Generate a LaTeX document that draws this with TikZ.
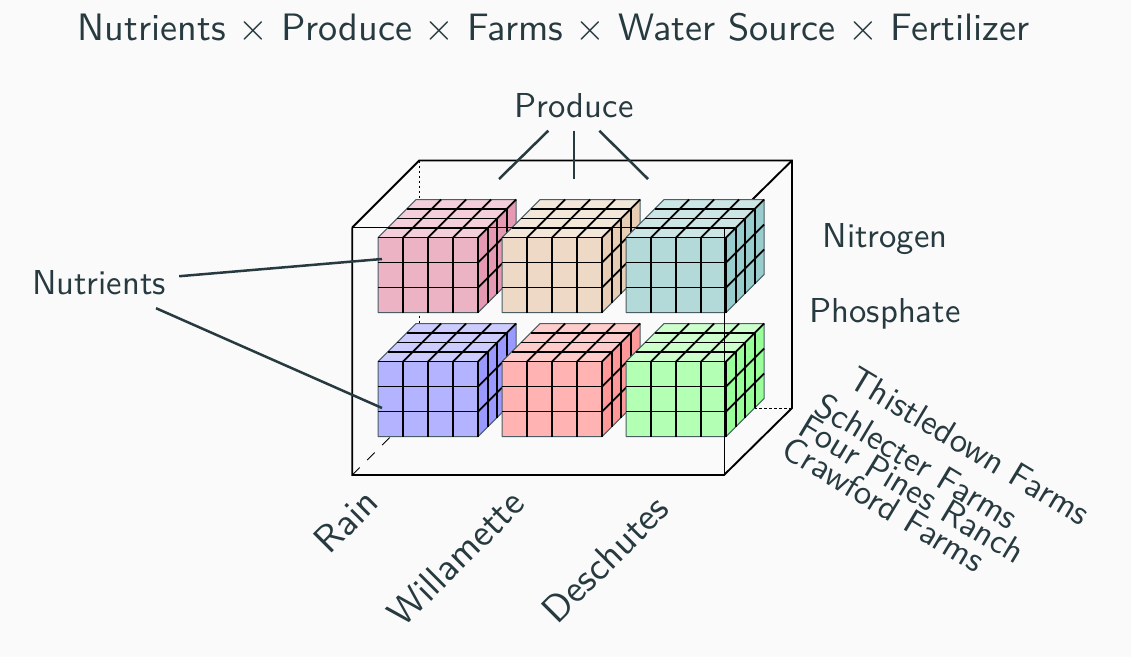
\documentclass[tikz,border=0pt]{standalone}
\usepackage{fontspec}
\usepackage{graphicx}
\setsansfont{Latin Modern Sans}
\definecolor{bgc}{HTML}{FAFAFA}
\definecolor{inkc}{HTML}{263A40}
\definecolor{edgec}{HTML}{4A5E64}
\definecolor{pinkF}{HTML}{EBB3C4}\definecolor{pinkT}{HTML}{F4CEDB}\definecolor{pinkS}{HTML}{E699B3}
\definecolor{tanF}{HTML}{EDD9C6}\definecolor{tanT}{HTML}{F3E7DA}\definecolor{tanS}{HTML}{E6CDB4}
\definecolor{tealF}{HTML}{B3D9D9}\definecolor{tealT}{HTML}{CCE6E6}\definecolor{tealS}{HTML}{99CCCC}
\definecolor{blueF}{HTML}{B3B3FF}\definecolor{blueT}{HTML}{CCCCFF}\definecolor{blueS}{HTML}{9999FF}
\definecolor{redF}{HTML}{FFB3B3}\definecolor{redT}{HTML}{FFCCCC}\definecolor{redS}{HTML}{FF9999}
\definecolor{greenF}{HTML}{B3FFB3}\definecolor{greenT}{HTML}{CCFFCC}\definecolor{greenS}{HTML}{99FF99}
\newcommand{\bigt}[1]{\scalebox{3.46}{#1}}
\newcommand{\hugt}[1]{\scalebox{3.82}{#1}}
\tikzset{
  x=1pt,y=-1pt,
  boxline/.style={black,line width=1.9pt},
  thinline/.style={black,line width=0.9pt},
  dotline/.style={black,line width=0.8pt,dash pattern=on 2.5pt off 2.5pt},
  dashline/.style={black,line width=0.9pt,dash pattern=on 10.6pt off 10.6pt},
  gridline/.style={black,line width=1.9pt},
  edgeline/.style={edgec,line width=1pt,line join=round},
  lab/.style={text=inkc,font=\fontsize{10}{12}\sffamily\selectfont,inner sep=0pt},
  hub/.style={lab,minimum width=#1,minimum height=50pt},
  conn/.style={inkc,line width=2.5pt},
}
\newcommand{\slab}[5]{%
  \begin{scope}[shift={(#1,#2)}]
    \fill[#3] (0,0) rectangle (100,75);
    \fill[#4] (0,0) -- (38,-38) -- (138,-38) -- (100,0) -- cycle;
    \fill[#5] (100,0) -- (138,-38) -- (138,37) -- (100,75) -- cycle;
    \draw[edgeline] (0,0) -- (38,-38) -- (138,-38) -- (138,37) -- (100,75) -- (0,75) -- cycle;
    \foreach \i in {25,50,75} \draw[gridline] (\i,0) -- (\i,75);
    \foreach \j in {25,50} \draw[gridline] (0,\j) -- (100,\j);
    \foreach \i in {25,50,75} \draw[gridline] (\i,0) -- ++(38,-38);
    \foreach \k in {9.5,19,28.5} {
      \draw[gridline] (\k,-\k) -- ++(100,0);
      \draw[gridline] (100+\k,-\k) -- ++(0,75);
    }
    \foreach \j in {25,50} \draw[gridline] (100,\j) -- ++(38,-38);
    \draw[gridline] (0,0) -- (100,0) -- (100,75);
    \draw[gridline] (100,0) -- (138,-38);
  \end{scope}}
\begin{document}
\begin{tikzpicture}
\useasboundingbox (0,0) rectangle (1131,657);
\fill[bgc] (0,0) rectangle (1131,657);
\coordinate (fa) at (352.2,227.5); \coordinate (fb) at (724,227.5);
\coordinate (fc) at (724,475); \coordinate (fd) at (352.2,475);
\coordinate (ba) at (419.2,160.5); \coordinate (bb) at (792,160.5);
\coordinate (bc) at (792,408); \coordinate (bd) at (419.2,408);
% hidden edges
\draw[dotline] (ba) -- (bd);
\draw[dotline] (bd) -- (bc);
\draw[dashline] (fd) -- (bd);
\draw[boxline] (bb) -- (fb);
% slabs
\slab{378.1}{361.5}{blueF}{blueT}{blueS}
\slab{502.1}{361.5}{redF}{redT}{redS}
\slab{626.1}{361.5}{greenF}{greenT}{greenS}
\slab{378.1}{237.5}{pinkF}{pinkT}{pinkS}
\slab{502.1}{237.5}{tanF}{tanT}{tanS}
\slab{626.1}{237.5}{tealF}{tealT}{tealS}
% visible box edges
\draw[boxline,line join=round] (fa) -- (fb);
\draw[boxline] (fa) -- (fd) -- (fc) -- (bc) -- (bb) -- (ba) -- (fa);
\draw[thinline] (fb) -- (fc);
% labels
\node[lab] (title) at (553.5,27) {\hugt{Nutrients × Produce × Farms × Water Source × Fertilizer}};
\node[hub=120pt] (produce) at (574,105.5) {\bigt{Produce}};
\node[hub=160pt] (nutrients) at (99,283) {\bigt{Nutrients}};
\node[lab] (nitrogen) at (885,239) {\bigt{Nitrogen}};
\node[lab] (phosphate) at (885,314) {\bigt{Phosphate}};
\node[lab,rotate=45] (rain) at (346,521) {\hugt{Rain}};
\node[lab,rotate=45] (willamette) at (456,558) {\hugt{Willamette}};
\node[lab,rotate=45] (deschutes) at (605,559) {\hugt{Deschutes}};
\node[lab,rotate=-31] (thistle) at (970,446) {\bigt{Thistledown Farms}};
\node[lab,rotate=-31] (schlecter) at (917,461) {\bigt{Schlecter Farms}};
\node[lab,rotate=-31] (fourpines) at (912,489) {\bigt{Four Pines Ranch}};
\node[lab,rotate=-31] (crawford) at (884,504) {\bigt{Crawford Farms}};
% connectors
\coordinate (p1) at (499,179); \coordinate (p2) at (574,179); \coordinate (p3) at (648,179);
\coordinate (n1) at (382,259); \coordinate (n2) at (382,408);
\draw[conn] (produce) -- (p1);
\draw[conn] (produce) -- (p2);
\draw[conn] (produce) -- (p3);
\draw[conn] (nutrients) -- (n1);
\draw[conn] (nutrients) -- (n2);
\end{tikzpicture}
\end{document}
